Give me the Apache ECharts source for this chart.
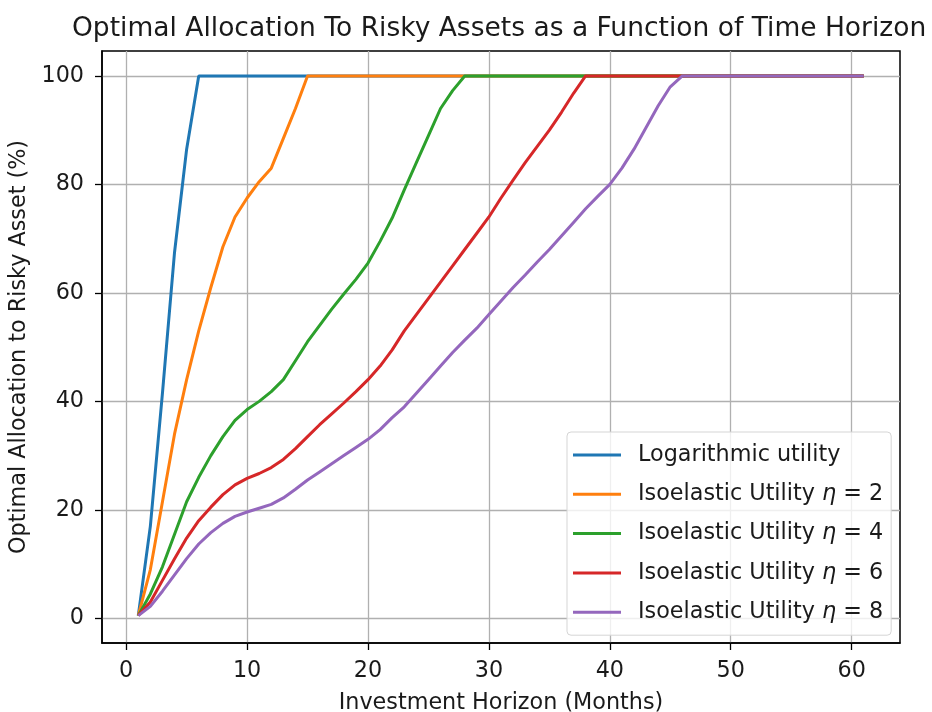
<!DOCTYPE html>
<html>
<head>
<meta charset="utf-8">
<script src="https://cdn.jsdelivr.net/npm/echarts@6/dist/echarts.min.js"></script>
<style>
  html, body { margin: 0; padding: 0; background: #fff; }
  #chart { width: 932px; height: 712px; }
</style>
</head>
<body>
<div id="chart"></div>
<script>
// months 1..61
const months = Array.from({ length: 61 }, (_, i) => i + 1)

// values, padded with 100 once the curve saturates
const logUtility = [0.5, 17, 41.5, 67.5, 86.5, 100]
const eta2 = [0.5, 9, 21.5, 34, 44, 53, 61, 68.5, 74, 77.5, 80.5, 83, 88.5, 94, 100]
const eta4 = [0.5, 4.5, 9.5, 15.5, 21.5, 26, 30, 33.5, 36.5, 38.5, 40, 41.8, 44, 47.5, 51,
  54, 57, 59.8, 62.5, 65.5, 69.5, 73.8, 79, 84, 89, 94, 97.3, 100]
const eta6 = [0.5, 3, 7, 11, 14.8, 18, 20.5, 22.8, 24.6, 25.8, 26.7, 27.8, 29.3, 31.3, 33.5,
  35.7, 37.7, 39.7, 41.8, 44, 46.5, 49.5, 53, 56, 59, 62, 65, 68, 71, 74,
  77.5, 80.8, 84, 87, 90, 93.3, 96.8, 100]
const eta8 = [0.5, 2.2, 5, 8, 11, 13.7, 15.8, 17.5, 18.8, 19.6, 20.3, 21, 22.2, 23.8, 25.5,
  27, 28.5, 30, 31.5, 33, 34.8, 37, 39, 41.5, 44, 46.5, 49, 51.3, 53.5, 56,
  58.5, 61, 63.3, 65.7, 68, 70.5, 73, 75.5, 77.8, 80, 83, 86.5, 90.5, 94.5, 98, 100]

const seriesNames = [
  'Logarithmic utility',
  'Isoelastic Utility η = 2',
  'Isoelastic Utility η = 4',
  'Isoelastic Utility η = 6',
  'Isoelastic Utility η = 8'
]
const seriesValues = [logUtility, eta2, eta4, eta6, eta8]
const colors = ['#1f77b4', '#ff7f0e', '#2ca02c', '#d62728', '#9467bd']

const xTicks = [0, 10, 20, 30, 40, 50, 60]
const yTicks = [0, 20, 40, 60, 80, 100]

const font = 'DejaVu Sans'
const fs = 22.3
const textColor = '#1a1a1a'

// fill each curve to 61 points (flat at 100 after saturation)
const toPoints = vals => months.map((m, i) => [m, i < vals.length ? vals[i] : 100])

const chart = echarts.init(document.getElementById('chart'), null, { renderer: 'canvas' })

const option = {
  backgroundColor: '#fff',
  animation: false,
  color: colors,
  title: {
    text: 'Optimal Allocation To Risky Assets as a Function of Time Horizon',
    left: 72,
    top: 16,
    padding: 0,
    textStyle: { fontFamily: font, fontSize: 26.5, fontWeight: 'normal', color: textColor }
  },
  grid: {
    left: 102, right: 32, top: 51, bottom: 69, containLabel: false,
    outerBoundsMode: 'none',
    show: true, borderColor: '#000', borderWidth: 1.5, backgroundColor: 'transparent'
  },
  legend: {
    orient: 'vertical',
    left: 567,
    top: 432,
    padding: [10, 8, 10, 6],
    itemGap: 13.3,
    itemWidth: 48,
    itemHeight: 3,
    icon: 'rect',
    backgroundColor: 'rgba(255,255,255,0.8)',
    borderColor: '#d5d5d5',
    borderWidth: 1,
    borderRadius: 4,
    data: seriesNames,
    formatter: name => name.replace('η', '{i|η}'),
    textStyle: {
      fontFamily: font,
      fontSize: fs,
      color: textColor,
      lineHeight: 26,
      padding: [0, 0, 0, 12],
      rich: {
        i: { fontFamily: font, fontSize: fs, fontStyle: 'italic', color: textColor, lineHeight: 26 }
      }
    }
  },
  xAxis: {
    type: 'value',
    min: -2,
    max: 64,
    interval: 10,
    name: 'Investment Horizon (Months)',
    nameLocation: 'middle',
    nameGap: 49,
    nameTextStyle: { fontFamily: font, fontSize: fs, color: textColor },
    axisLine: { onZero: false, lineStyle: { color: '#000', width: 1.5 } },
    axisTick: { show: true, length: 7, lineStyle: { color: '#000', width: 1.3 },
      customValues: xTicks },
    axisLabel: { fontFamily: font, fontSize: fs, color: textColor, margin: 17,
      customValues: xTicks },
    splitLine: { show: true, lineStyle: { color: '#b0b0b0', width: 1.3 } }
  },
  yAxis: {
    type: 'value',
    min: -4.55,
    max: 104.6,
    name: 'Optimal Allocation to Risky Asset (%)',
    nameLocation: 'middle',
    nameGap: 69,
    nameTextStyle: { fontFamily: font, fontSize: fs, color: textColor },
    axisLine: { onZero: false, lineStyle: { color: '#000', width: 1.5 } },
    axisTick: { show: true, length: 7, lineStyle: { color: '#000', width: 1.3 },
      customValues: yTicks },
    axisLabel: { fontFamily: font, fontSize: fs, color: textColor, margin: 18,
      customValues: yTicks },
    splitLine: { show: true, lineStyle: { color: '#b0b0b0', width: 1.3 } }
  },
  series: seriesNames.map((name, k) => ({
    name,
    type: 'line',
    data: toPoints(seriesValues[k]),
    symbol: 'none',
    smooth: false,
    lineStyle: { width: 3, color: colors[k] },
    z: 3 + k
  }))
}

chart.setOption(option)
</script>
</body>
</html>
